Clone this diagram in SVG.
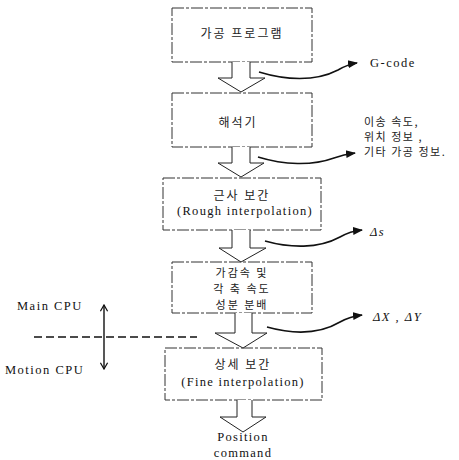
<svg xmlns="http://www.w3.org/2000/svg" width="459" height="460" viewBox="0 0 459 460">
<defs>
<style>
.box{fill:#fff;stroke:#333;stroke-width:1;stroke-dasharray:12 2 3 2}
.blk{fill:#fff;stroke:#222;stroke-width:1}
.cur{fill:none;stroke:#111;stroke-width:1.6}
.kr{font-family:"Noto Sans CJK KR","Noto Sans",sans-serif;font-size:12px;fill:#222;letter-spacing:2px}
.kr2{font-family:"Noto Sans CJK KR","Noto Sans",sans-serif;font-size:11px;fill:#222;letter-spacing:1.5px}
.en{font-family:"Liberation Serif",serif;font-size:12.5px;fill:#111;letter-spacing:1.3px}
.side{font-family:"Liberation Serif",serif;font-size:12.5px;fill:#111;letter-spacing:1.5px}
</style>
<marker id="ah" viewBox="0 0 10 10" refX="9" refY="5" markerWidth="10" markerHeight="10" markerUnits="userSpaceOnUse" orient="auto">
<path d="M0,1 L10,5 L0,9 Z" fill="#111"/>
</marker>
<marker id="va" viewBox="0 0 10 10" refX="9" refY="5" markerWidth="9" markerHeight="9" markerUnits="userSpaceOnUse" orient="auto-start-reverse">
<path d="M2,1 L9,5 L2,9" fill="none" stroke="#111" stroke-width="1.4"/>
</marker>
</defs>
<rect width="459" height="460" fill="#fff"/>

<g id="n1">
<rect class="box" x="172" y="8" width="140" height="54"/>
<text class="kr" x="242" y="38" text-anchor="middle">가공 프로그램</text>
</g>
<g id="n2">
<rect class="box" x="172" y="93" width="140" height="54"/>
<text class="kr" x="238" y="127" text-anchor="middle">해석기</text>
</g>
<g id="n3">
<rect class="box" x="163" y="178" width="158" height="52"/>
<text class="kr" x="242" y="200" text-anchor="middle">근사 보간</text>
<text class="en" x="245" y="215" text-anchor="middle">(Rough interpolation)</text>
</g>
<g id="n4">
<rect class="box" x="172" y="262" width="140" height="51"/>
<text class="kr2" x="242" y="277" text-anchor="middle" style="letter-spacing:2px">가감속 및</text>
<text class="kr2" x="242" y="293" text-anchor="middle" style="letter-spacing:2px">각 축 속도</text>
<text class="kr2" x="242" y="309" text-anchor="middle" style="letter-spacing:2px">성분 분배</text>
</g>
<g id="n5">
<rect class="box" x="165" y="348" width="157" height="52"/>
<text class="kr" x="243" y="369" text-anchor="middle">상세 보간</text>
<text class="en" x="243" y="386" text-anchor="middle">(Fine interpolation)</text>
</g>
<g id="n6">
<text class="en" x="243" y="441" text-anchor="middle">Position</text>
<text class="en" x="243" y="457" text-anchor="middle">command</text>
</g>
<g id="out1"><text class="side" x="370" y="67">G-code</text></g>
<g id="out2">
<text class="kr2" x="364" y="126">이송 속도,</text>
<text class="kr2" x="364" y="141">위치 정보 ,</text>
<text class="kr2" x="364" y="156">기타 가공 정보.</text>
</g>
<g id="out3"><text class="side" x="370" y="236" style="font-style:italic">Δs</text></g>
<g id="out4"><text class="side" x="373" y="321" style="font-style:italic">ΔX , ΔY</text></g>
<g id="cpu">
<text class="side" x="17" y="310">Main CPU</text>
<text class="side" x="5" y="374">Motion CPU</text>
</g>

<g id="connectors">
<polyline class="blk" points="232,62 232,78 218,78 241,92 265,78 250,78 250,62"/>
<polyline class="blk" points="232,147 232,163 218,163 241,177 264,163 250,163 250,147"/>
<polyline class="blk" points="232,230 232,248 219,248 241,262 266,248 250,248 250,230"/>
<polyline class="blk" points="235,313 235,333 215,333 243,348 267,333 252,333 252,313"/>
<polyline class="blk" points="237,400 237,417 220,417 243,432 266,417 252,417 252,400"/>
<path class="cur" d="M259,72 C285,80 315,82 338,70 C345,66 350,64 357,63" marker-end="url(#ah)"/>
<path class="cur" d="M258,157 C284,165 312,166 334,158 C342,155 347,154 355,153" marker-end="url(#ah)"/>
<path class="cur" d="M265,241 C290,248 318,249 340,237 C347,233 352,231 362,230" marker-end="url(#ah)"/>
<path class="cur" d="M267,327 C292,334 318,335 340,322 C347,318 353,316 362,315" marker-end="url(#ah)"/>
<line x1="34" y1="337" x2="197" y2="337" stroke="#111" stroke-width="1.3" stroke-dasharray="8 4"/>
<line x1="104" y1="305" x2="104" y2="369" stroke="#111" stroke-width="1.4" marker-start="url(#va)" marker-end="url(#va)"/>
</g>
</svg>
